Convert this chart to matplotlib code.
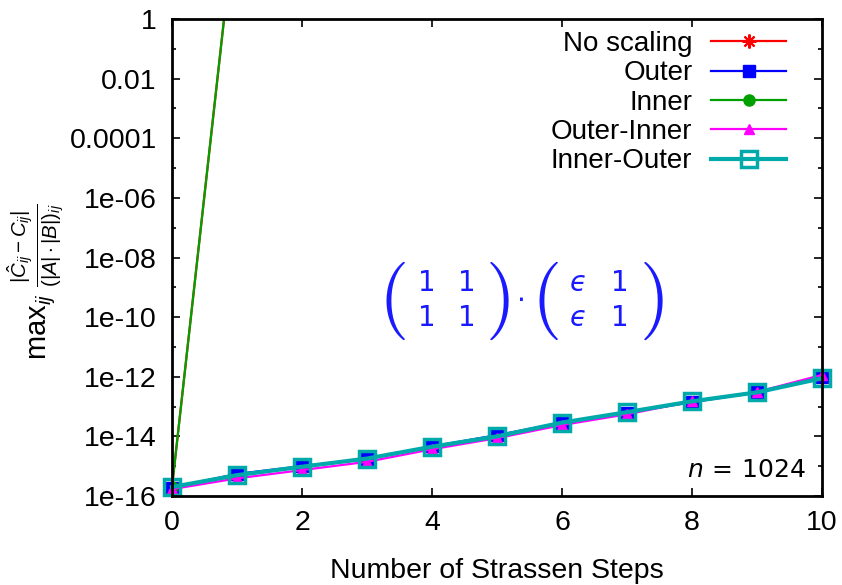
import numpy as np
import matplotlib
matplotlib.use('Agg')
import matplotlib.pyplot as plt
from matplotlib.ticker import FixedLocator, NullFormatter

plt.rcParams['font.family'] = ['Liberation Sans', 'DejaVu Sans']
plt.rcParams['mathtext.fontset'] = 'custom'
plt.rcParams['mathtext.rm'] = 'Liberation Sans'
plt.rcParams['mathtext.it'] = 'Liberation Sans:italic'
plt.rcParams['mathtext.bf'] = 'Liberation Sans:bold'

# data
steps = np.arange(0, 11)
steps_short = [0, 1]
no_scaling = [2.0e-16, 8.0e3]
inner = [2.0e-16, 8.0e3]
outer = [1.9e-16, 5.5e-16, 1.0e-15, 1.8e-15, 4.6e-15, 1.1e-14, 2.9e-14, 6.3e-14, 1.4e-13, 3.0e-13, 9.5e-13]
outer_inner = [1.7e-16, 3.9e-16, 7.4e-16, 1.4e-15, 3.7e-15, 8.7e-15, 2.4e-14, 5.5e-14, 1.5e-13, 3.1e-13, 1.15e-12]
inner_outer = [2.0e-16, 5.0e-16, 9.6e-16, 1.8e-15, 4.5e-15, 1.0e-14, 2.9e-14, 6.5e-14, 1.5e-13, 3.0e-13, 8.9e-13]

ytick_vals = [1e-16, 1e-14, 1e-12, 1e-10, 1e-8, 1e-6, 1e-4, 1e-2, 1]
ytick_labels = ['1e-16', '1e-14', '1e-12', '1e-10', '1e-08', '1e-06', '0.0001', '0.01', '1']
xtick_vals = [0, 2, 4, 6, 8, 10]

# matrix annotation entries
mat_a = [['1', '1'], ['1', '1']]
mat_b = [['\u03f5', '1'], ['\u03f5', '1']]

fig = plt.figure(figsize=(8.42, 5.85), dpi=100)
ax = fig.add_axes([172/842, 1 - 496/585, 650/842, 477/585])

ax.plot(steps_short, no_scaling, color='#ff0000', lw=1.6, marker=(8, 2, 0), ms=10, mew=1.5,
        label='No scaling')
ax.plot(steps, outer, color='#0000ff', lw=1.6, marker='s', ms=8, label='Outer', clip_on=False)
ax.plot(steps_short, inner, color='#00a000', lw=1.6, marker='o', ms=8, label='Inner')
ax.plot(steps, outer_inner, color='#ff00ff', lw=1.6, marker='^', ms=7, label='Outer-Inner', clip_on=False)
ax.plot(steps, inner_outer, color='#00aaaa', lw=3, marker='s', ms=11, mfc='none', mew=2.5,
        label='Inner-Outer', clip_on=False)

ax.set_yscale('log')
ax.set_xlim(0, 10)
ax.set_ylim(1e-16, 1)
ax.yaxis.set_major_locator(FixedLocator(ytick_vals))
ax.set_yticklabels(ytick_labels)
ax.yaxis.set_minor_locator(FixedLocator([10.0**k for k in range(-15, 0, 2)]))
ax.yaxis.set_minor_formatter(NullFormatter())
ax.set_xticks(xtick_vals)
ax.tick_params(which='both', direction='in', top=True, right=True, labelsize=20.5, width=1.2, color='black')
ax.tick_params(which='major', length=6)
ax.tick_params(which='minor', length=3)
ax.tick_params(axis='x', pad=10)
ax.tick_params(axis='y', pad=11)
for s in ax.spines.values():
    s.set_linewidth(2)

ax.set_xlabel('Number of Strassen Steps', fontsize=20.5, labelpad=16)
ax.set_ylabel(r'$\mathrm{max}_{ij}\ \frac{|\hat{C}_{ij} - C_{ij}|}{(|A|\cdot|B|)_{ij}}$', fontsize=21)
ax.yaxis.set_label_coords(-0.163, 0.45)

leg = ax.legend(loc='upper right', bbox_to_anchor=((786 - 172) / 650, 0.975), frameon=False,
                markerfirst=False, fontsize=20, handlelength=2.7, handletextpad=0.67,
                labelspacing=0.12, borderpad=0, borderaxespad=0)

ax.text(0.975, 0.055, r'$n\,=\,1024$', transform=ax.transAxes, ha='right', va='center', fontsize=18,
        math_fontfamily='dejavusans')

# matrix product annotation, built from pieces
blue = '#1a1aff'
col_a = [0.392, 0.454]
col_b = [0.625, 0.689]
rows = [0.4465, 0.373]
for i, yy in enumerate(rows):
    for j in range(2):
        ax.text(col_a[j], yy, mat_a[i][j], transform=ax.transAxes, ha='center', va='center',
                fontsize=20, color=blue, family='DejaVu Sans')
        ax.text(col_b[j], yy, mat_b[i][j], transform=ax.transAxes, ha='center', va='center',
                fontsize=20, color=blue, family='DejaVu Sans',
                style='italic' if j == 0 else 'normal')
for xx, ch in [(0.338, '('), (0.5, ')'), (0.574, '('), (0.737, ')')]:
    ax.text(xx, 0.409, '$' + ch + '$', transform=ax.transAxes, ha='center', va='center',
            fontsize=56, color=blue, math_fontfamily='cm')
ax.text(0.535, 0.409, r'$\cdot$', transform=ax.transAxes, ha='center', va='center',
        fontsize=20, color=blue, math_fontfamily='dejavusans')

fig.savefig('out.png', dpi=100)
